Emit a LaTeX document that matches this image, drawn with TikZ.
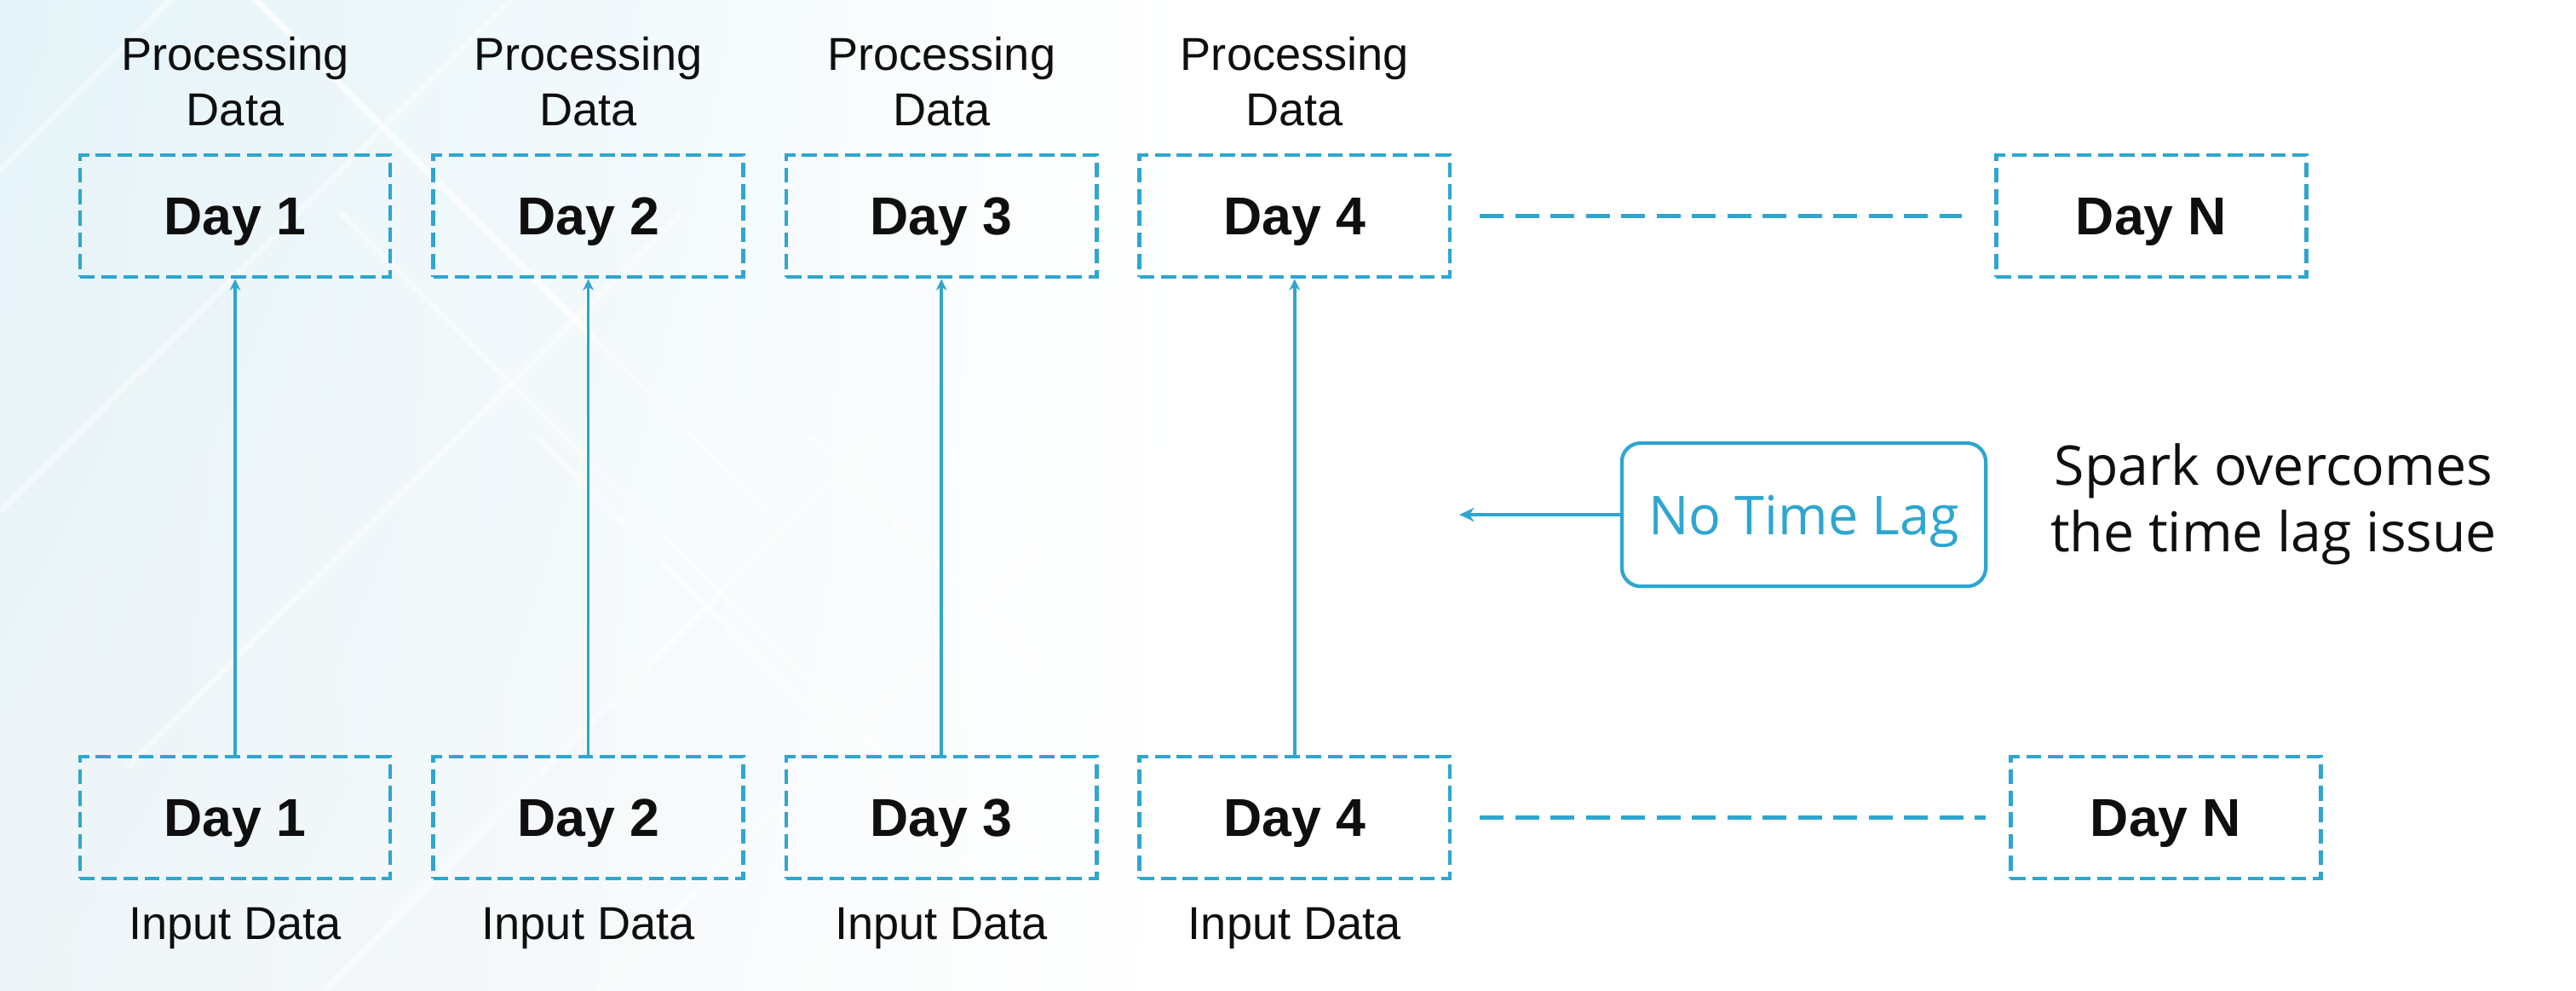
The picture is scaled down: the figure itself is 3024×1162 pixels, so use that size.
\documentclass[tikz,border=0pt]{standalone}
\usepackage{fontspec}
\setmainfont{Liberation Sans}
\newfontfamily\opensans{Open Sans}
\usetikzlibrary{arrows.meta,shadings}
\definecolor{sparkblue}{RGB}{46,166,208}
\definecolor{bgblue}{RGB}{228,243,248}
\definecolor{bgsoft}{RGB}{238,244,247}
\definecolor{inkgrey}{RGB}{15,15,15}

\begin{document}
\begin{tikzpicture}[x=0.01cm,y=-0.01cm,
  daybox/.style={draw=sparkblue,line width=1.35pt,dash pattern=on 5pt off 2.2pt,
    minimum width=3.64cm,minimum height=1.43cm,inner sep=0pt,text=inkgrey,
    text depth=0pt,font=\fontsize{17.8}{20}\selectfont\bfseries},
  caption/.style={inner sep=0pt,align=center,text=inkgrey,
    font=\fontsize{15.4}{18.5}\selectfont},
  flow/.style={draw=sparkblue,line width=1.05pt,-{Stealth[length=3.8pt,width=3.6pt]}},
  gapline/.style={draw=sparkblue,line width=1.3pt,dash pattern=on 8pt off 3.8pt}]

  % background
  \useasboundingbox (0,0) rectangle (3024,1162);
  \fill[white] (0,0) rectangle (3024,1162);
  \shade[upper left=bgblue,upper right=white,lower left=bgsoft,lower right=white]
    (0,0) rectangle (1400,1162);
  \foreach \a/\b in {0/600,150/900,380/1162,700/1162,-200/400} {
    \draw[white,line width=2pt,opacity=0.45] (\a,\b) -- (\a+650,\b-650);
    \draw[white,line width=2pt,opacity=0.45] (\a+250,\b-650) -- (\a+900,\b);
  }

  % day columns
  \foreach \i in {1,...,4} {
    \node[daybox] (top\i) at ({276+414.6*(\i-1)},253.5) {Day \i};
    \node[daybox] (bot\i) at ({276+414.6*(\i-1)},959.5) {Day \i};
    \node[caption] (proc\i) at ({276+414.6*(\i-1)},96) {Processing\\Data};
    \node[caption,anchor=base] (in\i) at ({276+414.6*(\i-1)},1102) {Input Data};
    \draw[flow] (bot\i) -- (top\i);
  }
  \node[daybox] (topN) at (2525.5,253.5) {Day N};
  \node[daybox] (botN) at (2542.5,959.5) {Day N};

  % dashed gaps to day N
  \draw[gapline,shorten <=0.33cm,shorten >=0.38cm] (top4) -- (topN);
  \draw[gapline,shorten <=0.33cm,shorten >=0.27cm] (bot4) -- (botN);

  % no time lag
  \node[draw=sparkblue,line width=1.2pt,rounded corners=0.22cm,
    minimum width=4.27cm,minimum height=1.68cm,text=sparkblue,text depth=0pt,
    font=\opensans\fontsize{17.9}{20}\selectfont] (lag) at (2117.5,604) {No Time Lag};
  \coordinate (lagend) at (1713,604);
  \draw[draw=sparkblue,line width=1.25pt,-{Stealth[length=5pt,width=4.6pt]}] (lag) -- (lagend);
  \node[inner sep=0pt,align=center,text=inkgrey,
    font=\opensans\fontsize{18.3}{22.2}\selectfont] (spark) at (2669,592)
    {Spark overcomes\\the time lag issue};
\end{tikzpicture}
\end{document}
